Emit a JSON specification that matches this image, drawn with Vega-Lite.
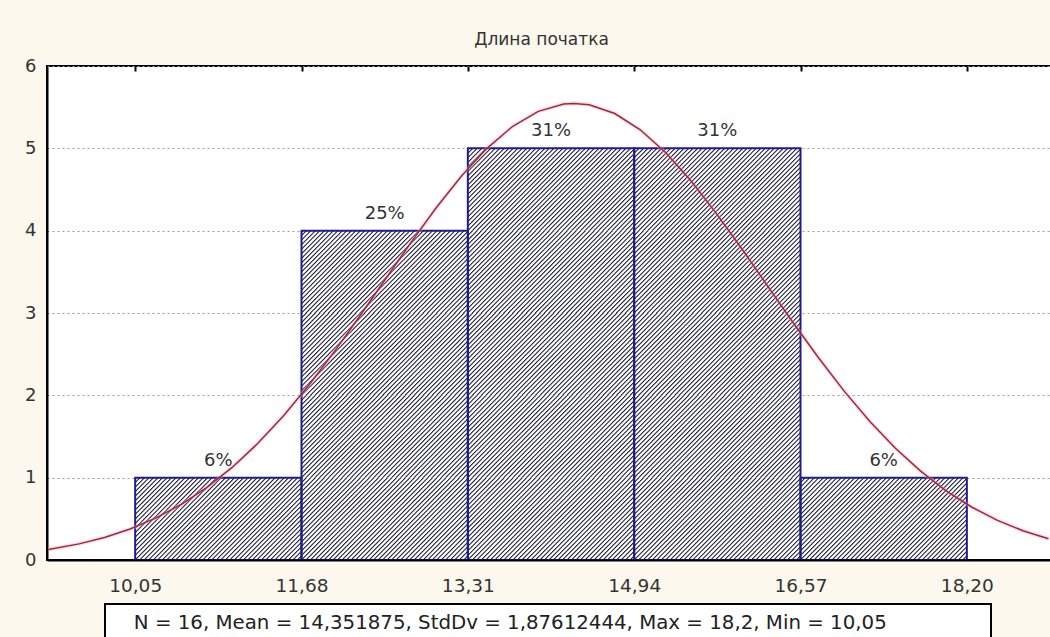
{
  "$schema": "https://vega.github.io/schema/vega-lite/v6.json",
  "width": 1005,
  "height": 494,
  "autosize": "none",
  "padding": {"left": 47, "top": 66, "right": -2, "bottom": 77},
  "background": "#fcf8ee",
  "title": {
    "text": "Длина початка",
    "font": "DejaVu Sans",
    "fontSize": 17,
    "fontWeight": "normal",
    "color": "#333",
    "anchor": "middle",
    "offset": 8,
    "dx": -8
  },
  "datasets": {
    "bins": [
      {"lo": 10.05, "hi": 11.68, "mid": 10.865, "n": 1, "pct": "6%"},
      {"lo": 11.68, "hi": 13.31, "mid": 12.495, "n": 4, "pct": "25%"},
      {"lo": 13.31, "hi": 14.94, "mid": 14.125, "n": 5, "pct": "31%"},
      {"lo": 14.94, "hi": 16.57, "mid": 15.755, "n": 5, "pct": "31%"},
      {"lo": 16.57, "hi": 18.2, "mid": 17.385, "n": 1, "pct": "6%"}
    ],
    "observations": [
      {"lo": 10.05, "hi": 11.68},
      {"lo": 11.68, "hi": 13.31},
      {"lo": 11.68, "hi": 13.31},
      {"lo": 11.68, "hi": 13.31},
      {"lo": 11.68, "hi": 13.31},
      {"lo": 13.31, "hi": 14.94},
      {"lo": 13.31, "hi": 14.94},
      {"lo": 13.31, "hi": 14.94},
      {"lo": 13.31, "hi": 14.94},
      {"lo": 13.31, "hi": 14.94},
      {"lo": 14.94, "hi": 16.57},
      {"lo": 14.94, "hi": 16.57},
      {"lo": 14.94, "hi": 16.57},
      {"lo": 14.94, "hi": 16.57},
      {"lo": 14.94, "hi": 16.57},
      {"lo": 16.57, "hi": 18.2}
    ],
    "curve": [
      {"x": 9.2, "y": 0.128}, {"x": 9.5, "y": 0.196}, {"x": 9.75, "y": 0.274},
      {"x": 10.0, "y": 0.376}, {"x": 10.25, "y": 0.508}, {"x": 10.5, "y": 0.674},
      {"x": 10.75, "y": 0.878}, {"x": 11.0, "y": 1.124}, {"x": 11.25, "y": 1.414},
      {"x": 11.5, "y": 1.747}, {"x": 11.75, "y": 2.12}, {"x": 12.0, "y": 2.528},
      {"x": 12.25, "y": 2.961}, {"x": 12.5, "y": 3.407}, {"x": 12.75, "y": 3.852},
      {"x": 13.0, "y": 4.278}, {"x": 13.25, "y": 4.667}, {"x": 13.5, "y": 5.003},
      {"x": 13.75, "y": 5.268}, {"x": 14.0, "y": 5.449}, {"x": 14.25, "y": 5.538},
      {"x": 14.35, "y": 5.546}, {"x": 14.5, "y": 5.529}, {"x": 14.75, "y": 5.423},
      {"x": 15.0, "y": 5.225}, {"x": 15.25, "y": 4.946}, {"x": 15.5, "y": 4.599},
      {"x": 15.75, "y": 4.201}, {"x": 16.0, "y": 3.771}, {"x": 16.25, "y": 3.324},
      {"x": 16.5, "y": 2.879}, {"x": 16.75, "y": 2.45}, {"x": 17.0, "y": 2.048},
      {"x": 17.25, "y": 1.682}, {"x": 17.5, "y": 1.357}, {"x": 17.75, "y": 1.076},
      {"x": 18.0, "y": 0.837}, {"x": 18.25, "y": 0.641}, {"x": 18.5, "y": 0.481},
      {"x": 18.75, "y": 0.355}, {"x": 19.0, "y": 0.258}
    ]
  },
  "resolve": {"axis": {"x": "independent"}},
  "layer": [
    {
      "data": {"name": "observations"},
      "transform": [{"window": [{"op": "row_number", "as": "obs"}]}],
      "mark": {
        "type": "bar",
        "stroke": null,
        "fill": {
          "gradient": "linear",
          "x1": 0, "y1": 0, "x2": 1.2015, "y2": 0.5888,
          "stops": [
            {"offset": 0, "color": "#2a2a48"}, {"offset": 0.0018, "color": "#2a2a48"}, {"offset": 0.0073, "color": "#fff"}, {"offset": 0.0145, "color": "#fff"},
            {"offset": 0.0182, "color": "#2a2a48"}, {"offset": 0.02, "color": "#2a2a48"}, {"offset": 0.0255, "color": "#fff"}, {"offset": 0.0327, "color": "#fff"},
            {"offset": 0.0364, "color": "#2a2a48"}, {"offset": 0.0382, "color": "#2a2a48"}, {"offset": 0.0437, "color": "#fff"}, {"offset": 0.0509, "color": "#fff"},
            {"offset": 0.0545, "color": "#2a2a48"}, {"offset": 0.0563, "color": "#2a2a48"}, {"offset": 0.0618, "color": "#fff"}, {"offset": 0.0691, "color": "#fff"},
            {"offset": 0.0727, "color": "#2a2a48"}, {"offset": 0.0745, "color": "#2a2a48"}, {"offset": 0.08, "color": "#fff"}, {"offset": 0.0873, "color": "#fff"},
            {"offset": 0.0909, "color": "#2a2a48"}, {"offset": 0.0927, "color": "#2a2a48"}, {"offset": 0.0982, "color": "#fff"}, {"offset": 0.1055, "color": "#fff"},
            {"offset": 0.1091, "color": "#2a2a48"}, {"offset": 0.1109, "color": "#2a2a48"}, {"offset": 0.1164, "color": "#fff"}, {"offset": 0.1236, "color": "#fff"},
            {"offset": 0.1273, "color": "#2a2a48"}, {"offset": 0.1291, "color": "#2a2a48"}, {"offset": 0.1346, "color": "#fff"}, {"offset": 0.1418, "color": "#fff"},
            {"offset": 0.1455, "color": "#2a2a48"}, {"offset": 0.1473, "color": "#2a2a48"}, {"offset": 0.1528, "color": "#fff"}, {"offset": 0.16, "color": "#fff"},
            {"offset": 0.1636, "color": "#2a2a48"}, {"offset": 0.1654, "color": "#2a2a48"}, {"offset": 0.1709, "color": "#fff"}, {"offset": 0.1782, "color": "#fff"},
            {"offset": 0.1818, "color": "#2a2a48"}, {"offset": 0.1836, "color": "#2a2a48"}, {"offset": 0.1891, "color": "#fff"}, {"offset": 0.1964, "color": "#fff"},
            {"offset": 0.2, "color": "#2a2a48"}, {"offset": 0.2018, "color": "#2a2a48"}, {"offset": 0.2073, "color": "#fff"}, {"offset": 0.2145, "color": "#fff"},
            {"offset": 0.2182, "color": "#2a2a48"}, {"offset": 0.22, "color": "#2a2a48"}, {"offset": 0.2255, "color": "#fff"}, {"offset": 0.2327, "color": "#fff"},
            {"offset": 0.2364, "color": "#2a2a48"}, {"offset": 0.2382, "color": "#2a2a48"}, {"offset": 0.2437, "color": "#fff"}, {"offset": 0.2509, "color": "#fff"},
            {"offset": 0.2545, "color": "#2a2a48"}, {"offset": 0.2563, "color": "#2a2a48"}, {"offset": 0.2618, "color": "#fff"}, {"offset": 0.2691, "color": "#fff"},
            {"offset": 0.2727, "color": "#2a2a48"}, {"offset": 0.2745, "color": "#2a2a48"}, {"offset": 0.28, "color": "#fff"}, {"offset": 0.2873, "color": "#fff"},
            {"offset": 0.2909, "color": "#2a2a48"}, {"offset": 0.2927, "color": "#2a2a48"}, {"offset": 0.2982, "color": "#fff"}, {"offset": 0.3055, "color": "#fff"},
            {"offset": 0.3091, "color": "#2a2a48"}, {"offset": 0.3109, "color": "#2a2a48"}, {"offset": 0.3164, "color": "#fff"}, {"offset": 0.3236, "color": "#fff"},
            {"offset": 0.3273, "color": "#2a2a48"}, {"offset": 0.3291, "color": "#2a2a48"}, {"offset": 0.3346, "color": "#fff"}, {"offset": 0.3418, "color": "#fff"},
            {"offset": 0.3455, "color": "#2a2a48"}, {"offset": 0.3473, "color": "#2a2a48"}, {"offset": 0.3528, "color": "#fff"}, {"offset": 0.36, "color": "#fff"},
            {"offset": 0.3636, "color": "#2a2a48"}, {"offset": 0.3654, "color": "#2a2a48"}, {"offset": 0.3709, "color": "#fff"}, {"offset": 0.3782, "color": "#fff"},
            {"offset": 0.3818, "color": "#2a2a48"}, {"offset": 0.3836, "color": "#2a2a48"}, {"offset": 0.3891, "color": "#fff"}, {"offset": 0.3964, "color": "#fff"},
            {"offset": 0.4, "color": "#2a2a48"}, {"offset": 0.4018, "color": "#2a2a48"}, {"offset": 0.4073, "color": "#fff"}, {"offset": 0.4145, "color": "#fff"},
            {"offset": 0.4182, "color": "#2a2a48"}, {"offset": 0.42, "color": "#2a2a48"}, {"offset": 0.4255, "color": "#fff"}, {"offset": 0.4327, "color": "#fff"},
            {"offset": 0.4364, "color": "#2a2a48"}, {"offset": 0.4382, "color": "#2a2a48"}, {"offset": 0.4437, "color": "#fff"}, {"offset": 0.4509, "color": "#fff"},
            {"offset": 0.4545, "color": "#2a2a48"}, {"offset": 0.4563, "color": "#2a2a48"}, {"offset": 0.4618, "color": "#fff"}, {"offset": 0.4691, "color": "#fff"},
            {"offset": 0.4727, "color": "#2a2a48"}, {"offset": 0.4745, "color": "#2a2a48"}, {"offset": 0.48, "color": "#fff"}, {"offset": 0.4873, "color": "#fff"},
            {"offset": 0.4909, "color": "#2a2a48"}, {"offset": 0.4927, "color": "#2a2a48"}, {"offset": 0.4982, "color": "#fff"}, {"offset": 0.5055, "color": "#fff"},
            {"offset": 0.5091, "color": "#2a2a48"}, {"offset": 0.5109, "color": "#2a2a48"}, {"offset": 0.5164, "color": "#fff"}, {"offset": 0.5236, "color": "#fff"},
            {"offset": 0.5273, "color": "#2a2a48"}, {"offset": 0.5291, "color": "#2a2a48"}, {"offset": 0.5346, "color": "#fff"}, {"offset": 0.5418, "color": "#fff"},
            {"offset": 0.5455, "color": "#2a2a48"}, {"offset": 0.5473, "color": "#2a2a48"}, {"offset": 0.5528, "color": "#fff"}, {"offset": 0.56, "color": "#fff"},
            {"offset": 0.5636, "color": "#2a2a48"}, {"offset": 0.5654, "color": "#2a2a48"}, {"offset": 0.5709, "color": "#fff"}, {"offset": 0.5782, "color": "#fff"},
            {"offset": 0.5818, "color": "#2a2a48"}, {"offset": 0.5836, "color": "#2a2a48"}, {"offset": 0.5891, "color": "#fff"}, {"offset": 0.5964, "color": "#fff"},
            {"offset": 0.6, "color": "#2a2a48"}, {"offset": 0.6018, "color": "#2a2a48"}, {"offset": 0.6073, "color": "#fff"}, {"offset": 0.6145, "color": "#fff"},
            {"offset": 0.6182, "color": "#2a2a48"}, {"offset": 0.62, "color": "#2a2a48"}, {"offset": 0.6255, "color": "#fff"}, {"offset": 0.6327, "color": "#fff"},
            {"offset": 0.6364, "color": "#2a2a48"}, {"offset": 0.6382, "color": "#2a2a48"}, {"offset": 0.6437, "color": "#fff"}, {"offset": 0.6509, "color": "#fff"},
            {"offset": 0.6545, "color": "#2a2a48"}, {"offset": 0.6563, "color": "#2a2a48"}, {"offset": 0.6618, "color": "#fff"}, {"offset": 0.6691, "color": "#fff"},
            {"offset": 0.6727, "color": "#2a2a48"}, {"offset": 0.6745, "color": "#2a2a48"}, {"offset": 0.68, "color": "#fff"}, {"offset": 0.6873, "color": "#fff"},
            {"offset": 0.6909, "color": "#2a2a48"}, {"offset": 0.6927, "color": "#2a2a48"}, {"offset": 0.6982, "color": "#fff"}, {"offset": 0.7055, "color": "#fff"},
            {"offset": 0.7091, "color": "#2a2a48"}, {"offset": 0.7109, "color": "#2a2a48"}, {"offset": 0.7164, "color": "#fff"}, {"offset": 0.7236, "color": "#fff"},
            {"offset": 0.7273, "color": "#2a2a48"}, {"offset": 0.7291, "color": "#2a2a48"}, {"offset": 0.7346, "color": "#fff"}, {"offset": 0.7418, "color": "#fff"},
            {"offset": 0.7455, "color": "#2a2a48"}, {"offset": 0.7473, "color": "#2a2a48"}, {"offset": 0.7528, "color": "#fff"}, {"offset": 0.76, "color": "#fff"},
            {"offset": 0.7636, "color": "#2a2a48"}, {"offset": 0.7654, "color": "#2a2a48"}, {"offset": 0.7709, "color": "#fff"}, {"offset": 0.7782, "color": "#fff"},
            {"offset": 0.7818, "color": "#2a2a48"}, {"offset": 0.7836, "color": "#2a2a48"}, {"offset": 0.7891, "color": "#fff"}, {"offset": 0.7964, "color": "#fff"},
            {"offset": 0.8, "color": "#2a2a48"}, {"offset": 0.8018, "color": "#2a2a48"}, {"offset": 0.8073, "color": "#fff"}, {"offset": 0.8145, "color": "#fff"},
            {"offset": 0.8182, "color": "#2a2a48"}, {"offset": 0.82, "color": "#2a2a48"}, {"offset": 0.8255, "color": "#fff"}, {"offset": 0.8327, "color": "#fff"},
            {"offset": 0.8364, "color": "#2a2a48"}, {"offset": 0.8382, "color": "#2a2a48"}, {"offset": 0.8437, "color": "#fff"}, {"offset": 0.8509, "color": "#fff"},
            {"offset": 0.8545, "color": "#2a2a48"}, {"offset": 0.8563, "color": "#2a2a48"}, {"offset": 0.8618, "color": "#fff"}, {"offset": 0.8691, "color": "#fff"},
            {"offset": 0.8727, "color": "#2a2a48"}, {"offset": 0.8745, "color": "#2a2a48"}, {"offset": 0.88, "color": "#fff"}, {"offset": 0.8873, "color": "#fff"},
            {"offset": 0.8909, "color": "#2a2a48"}, {"offset": 0.8927, "color": "#2a2a48"}, {"offset": 0.8982, "color": "#fff"}, {"offset": 0.9055, "color": "#fff"},
            {"offset": 0.9091, "color": "#2a2a48"}, {"offset": 0.9109, "color": "#2a2a48"}, {"offset": 0.9164, "color": "#fff"}, {"offset": 0.9236, "color": "#fff"},
            {"offset": 0.9273, "color": "#2a2a48"}, {"offset": 0.9291, "color": "#2a2a48"}, {"offset": 0.9346, "color": "#fff"}, {"offset": 0.9418, "color": "#fff"},
            {"offset": 0.9455, "color": "#2a2a48"}, {"offset": 0.9473, "color": "#2a2a48"}, {"offset": 0.9528, "color": "#fff"}, {"offset": 0.96, "color": "#fff"},
            {"offset": 0.9636, "color": "#2a2a48"}, {"offset": 0.9654, "color": "#2a2a48"}, {"offset": 0.9709, "color": "#fff"}, {"offset": 0.9782, "color": "#fff"},
            {"offset": 0.9818, "color": "#2a2a48"}, {"offset": 0.9836, "color": "#2a2a48"}, {"offset": 0.9891, "color": "#fff"}, {"offset": 0.9964, "color": "#fff"},
            {"offset": 1, "color": "#2a2a48"}
          ]
        }
      },
      "encoding": {
        "x": {
          "field": "lo",
          "type": "quantitative",
          "scale": {"domain": [9.235, 18.9854], "nice": false, "zero": false},
          "axis": {
            "orient": "bottom",
            "values": [10.05, 11.68, 13.31, 14.94, 16.57, 18.2],
            "labelExpr": "replace(format(datum.value, '.2f'), '.', ',')",
            "ticks": false,
            "tickSize": 0,
            "grid": false,
            "domainColor": "#000",
            "domainWidth": 2,
            "labelFont": "DejaVu Sans",
            "labelFontSize": 18.5,
            "labelColor": "#333",
            "labelPadding": 16,
            "labelOverlap": false,
            "labelFlush": false,
            "title": null,
            "zindex": 1
          }
        },
        "x2": {"field": "hi"},
        "y": {
          "aggregate": "count",
          "type": "quantitative",
          "stack": "zero",
          "title": null,
          "scale": {"domain": [0, 6], "nice": false},
          "axis": {"values": [0, 1, 2, 3, 4, 5, 6], "title": null}
        },
        "detail": {"field": "obs", "type": "nominal"}
      }
    },
    {
      "data": {"name": "bins"},
      "mark": {"type": "bar", "fill": "transparent", "stroke": "#1c1c8c", "strokeWidth": 2},
      "encoding": {
        "x": {
          "field": "lo",
          "type": "quantitative",
          "axis": {
            "orient": "top",
            "values": [10.05, 11.68, 13.31, 14.94, 16.57, 18.2],
            "labels": false,
            "ticks": true,
            "tickSize": 5,
            "offset": -5,
            "tickColor": "#000",
            "tickWidth": 2,
            "domain": false,
            "grid": false,
            "title": null,
            "zindex": 1
          }
        },
        "x2": {"field": "hi"},
        "y": {"field": "n", "type": "quantitative", "title": null, "axis": {"values": [0, 1, 2, 3, 4, 5, 6], "title": null}},
        "y2": {"datum": 0}
      }
    },
    {
      "data": {"name": "curve"},
      "mark": {"type": "line", "clip": true, "color": "#f3a6b8", "strokeWidth": 4, "opacity": 0.35},
      "encoding": {
        "x": {"field": "x", "type": "quantitative", "axis": null},
        "y": {"field": "y", "type": "quantitative", "title": null, "axis": {"values": [0, 1, 2, 3, 4, 5, 6], "title": null}}
      }
    },
    {
      "data": {"name": "curve"},
      "mark": {"type": "line", "clip": true, "strokeWidth": 1.5},
      "encoding": {
        "x": {"field": "x", "type": "quantitative", "axis": null},
        "y": {"field": "y", "type": "quantitative", "title": null, "axis": {"values": [0, 1, 2, 3, 4, 5, 6], "title": null}},
        "color": {
          "datum": "N = 16, Mean = 14,351875, StdDv = 1,87612444, Max = 18,2, Min = 10,05",
          "type": "nominal",
          "scale": {"range": ["#a0283c"]},
          "legend": {
            "orient": "none",
            "legendX": 58,
            "legendY": 538,
            "title": null,
            "padding": 9,
            "strokeColor": "#000",
            "fillColor": "#fff",
            "symbolOpacity": 0,
            "symbolSize": 100,
            "labelOffset": 0,
            "labelFont": "DejaVu Sans",
            "labelFontSize": 19.8,
            "labelColor": "#222",
            "labelLimit": 2000,
            "labelExpr": "datum.label + '\u00a0\u00a0\u00a0\u00a0\u00a0\u00a0\u00a0\u00a0\u00a0\u00a0\u00a0\u00a0\u00a0\u00a0\u00a0\u200b'",
            "encode": {"legend": {"update": {"strokeWidth": {"value": 2}}}}
          }
        }
      }
    },
    {
      "data": {"name": "bins"},
      "mark": {"type": "text", "dy": -12, "baseline": "alphabetic", "font": "DejaVu Sans", "fontSize": 18, "color": "#333"},
      "encoding": {
        "x": {"field": "mid", "type": "quantitative", "axis": null},
        "y": {"field": "n", "type": "quantitative", "title": null, "axis": {"values": [0, 1, 2, 3, 4, 5, 6], "title": null}},
        "text": {"field": "pct", "type": "nominal"}
      }
    }
  ],
  "config": {
    "font": "DejaVu Sans",
    "view": {"fill": "#fff", "stroke": "#000", "strokeWidth": 2},
    "axisY": {
      "grid": true,
      "gridColor": "#9a9a9a",
      "gridDash": [2, 3],
      "gridWidth": 1,
      "domainColor": "#000",
      "domainWidth": 2,
      "ticks": false,
      "tickSize": 0,
      "labelFont": "DejaVu Sans",
      "labelFontSize": 18,
      "labelColor": "#333",
      "labelPadding": 11
    }
  }
}
